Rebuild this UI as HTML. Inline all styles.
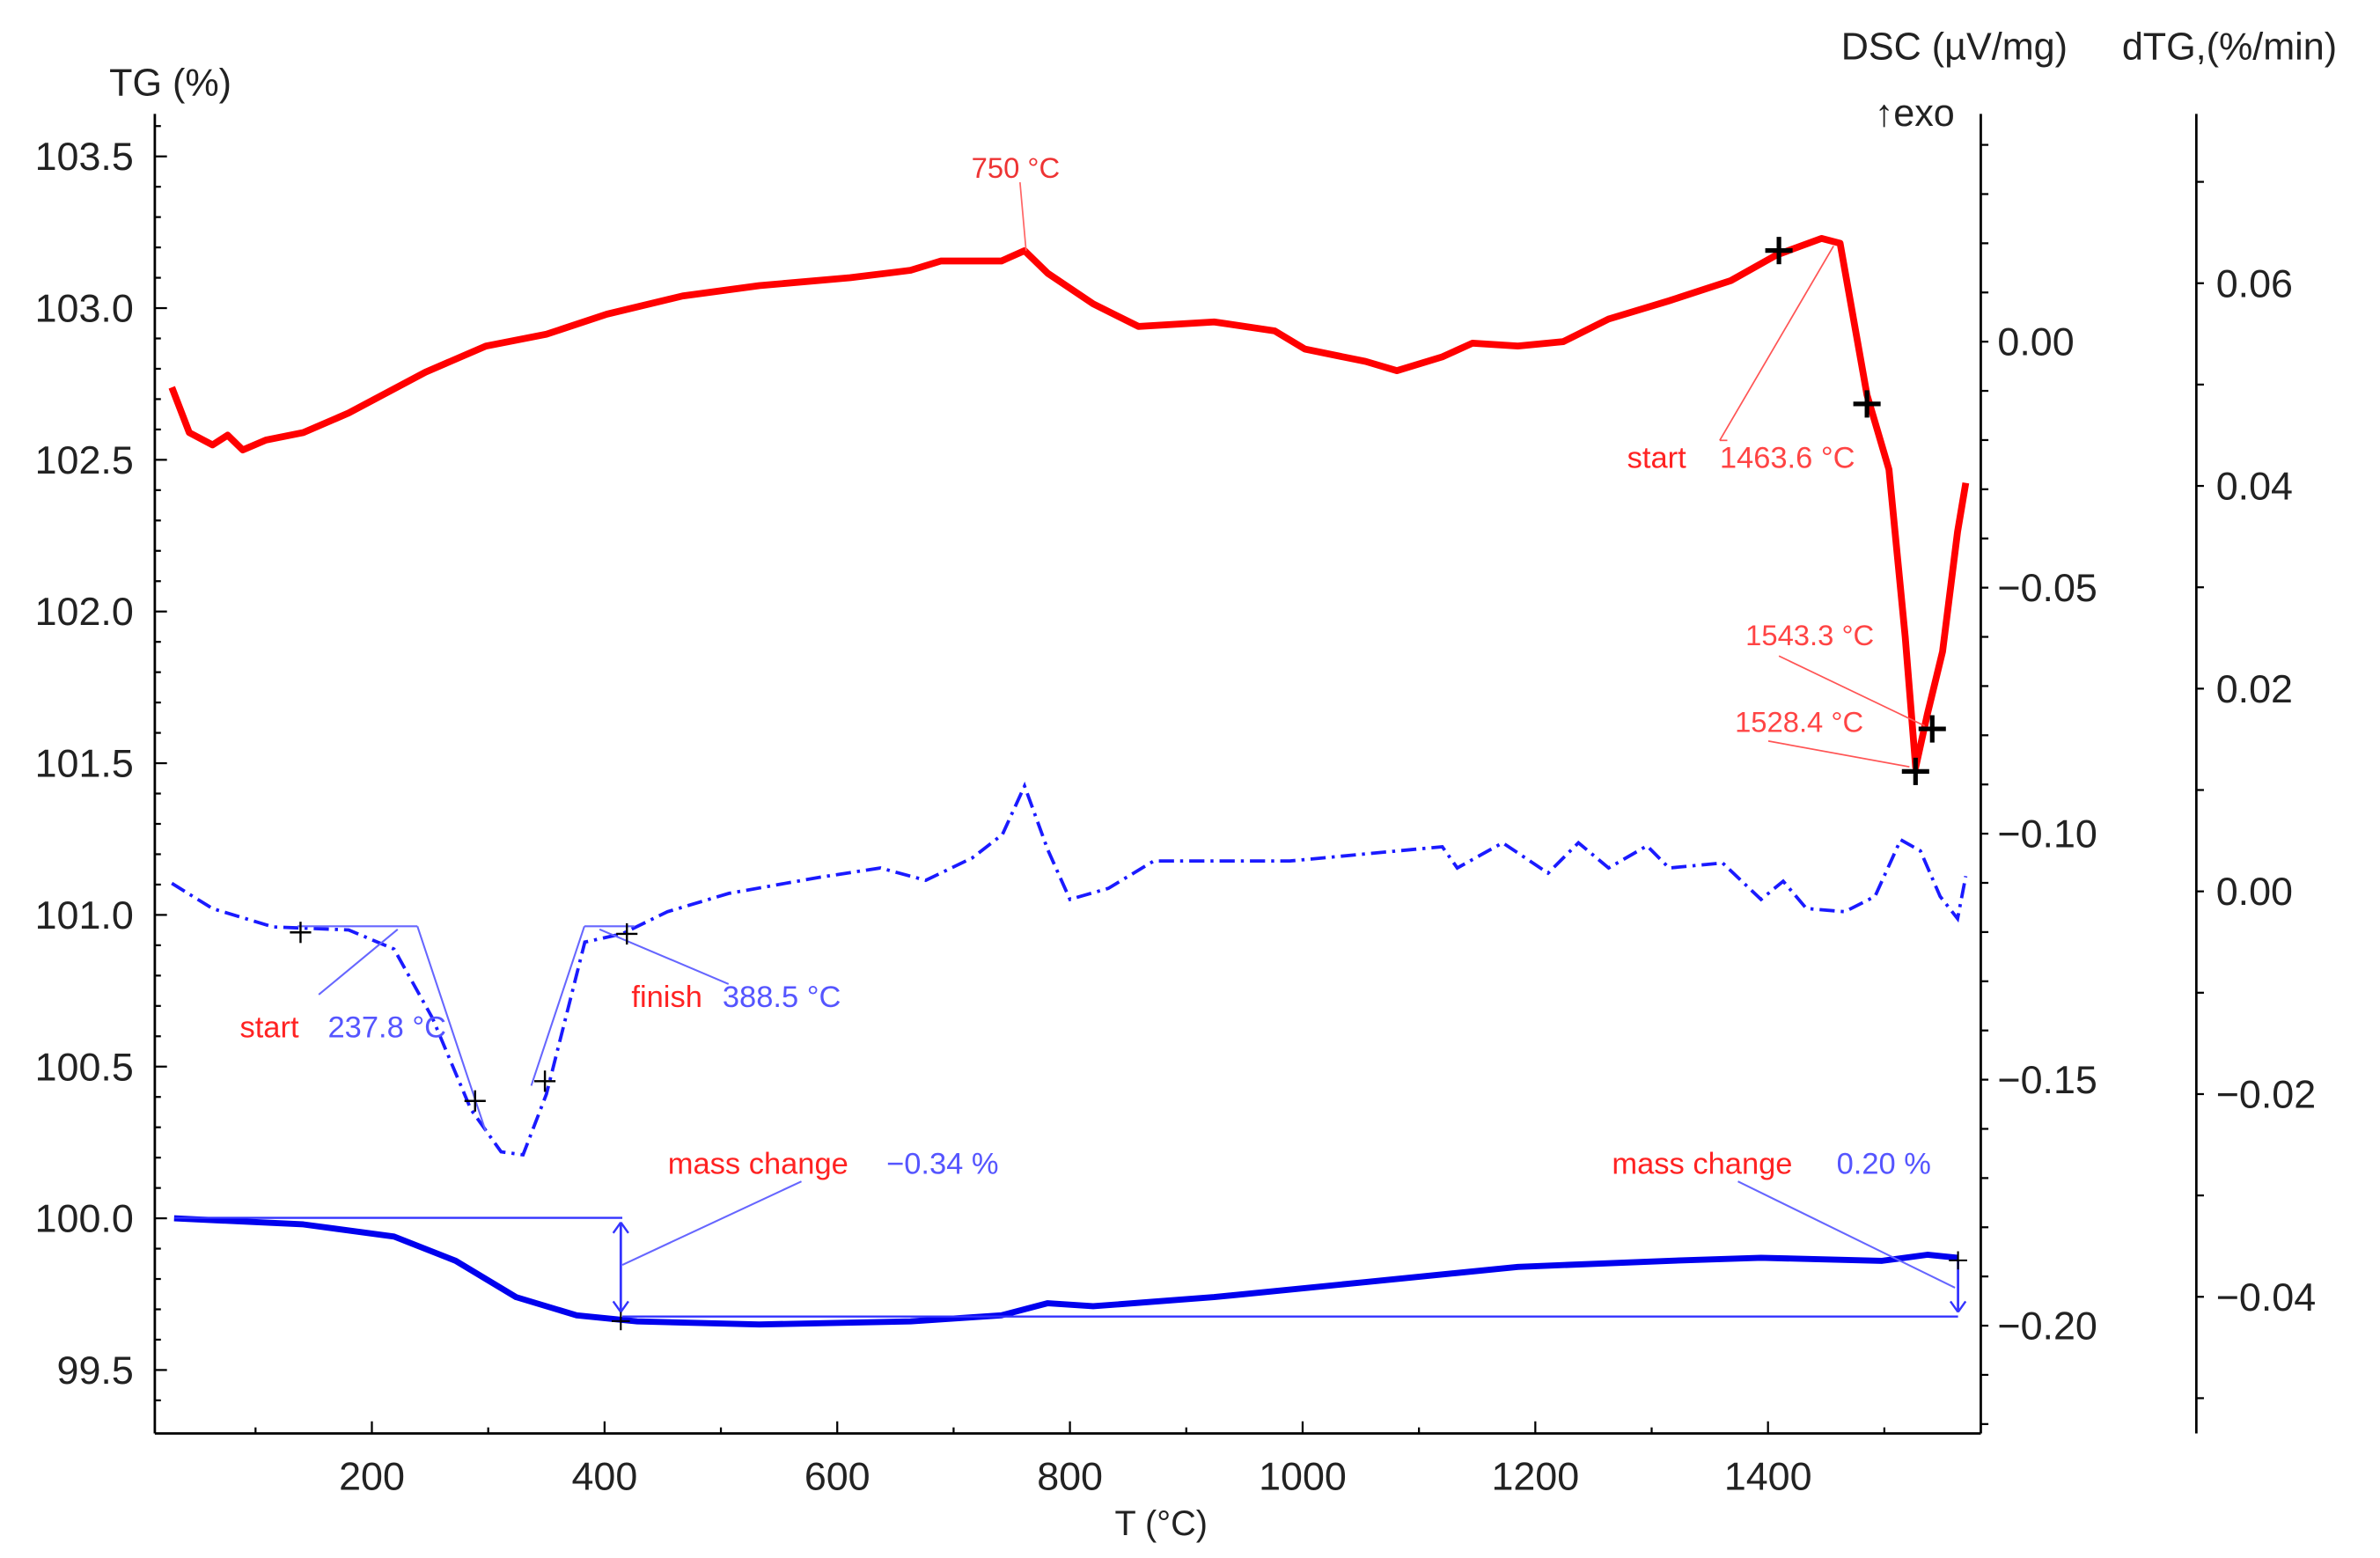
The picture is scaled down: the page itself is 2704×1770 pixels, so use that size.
<!DOCTYPE html>
<html><head><meta charset="utf-8"><style>
html,body{margin:0;padding:0;background:#fff}
svg{display:block}
text{font-family:"Liberation Sans",sans-serif}
</style></head><body>
<svg id="chart" width="2704" height="1770" viewBox="0 0 1568 1026" preserveAspectRatio="none" xmlns="http://www.w3.org/2000/svg">
<g id="axes"></g>
<g id="marks"></g>
<g id="ann"></g>
</svg>
<script>
const xTicks=[200,400,600,800,1000,1200,1400];
const tgTicks=[99.5,100.0,100.5,101.0,101.5,102.0,102.5,103.0,103.5];
const dscTicks=[0.00,-0.05,-0.10,-0.15,-0.20];
const dscTickLabels=["0.00","\u22120.05","\u22120.10","\u22120.15","\u22120.20"];
const dtgTicks=[0.06,0.04,0.02,0.00,-0.02,-0.04];
const dtgTickLabels=["0.06","0.04","0.02","0.00","\u22120.02","\u22120.04"];
const dscT=[28,43,63,76,89,109,141,180,246,298,350,402,467,533,611,663,689,741,761,781,820,859,924,976,1002,1054,1081,1120,1146,1185,1224,1263,1315,1368,1407,1446,1462,1485,1504,1518,1527,1537,1550,1563,1570];
const dscV=[-0.0093,-0.0185,-0.021,-0.019,-0.022,-0.020,-0.0185,-0.0145,-0.0062,-0.0009,0.0015,0.0056,0.0093,0.0114,0.013,0.0145,0.0164,0.0164,0.0185,0.0139,0.0077,0.0031,0.004,0.0022,-0.0015,-0.004,-0.0059,-0.0031,-0.0003,-0.0009,0,0.0046,0.0083,0.0124,0.0176,0.021,0.020,-0.0108,-0.026,-0.060,-0.0865,-0.0757,-0.063,-0.0386,-0.0287];
const dtgT=[28,63,115,180,219,252,285,311,330,350,383,415,454,507,585,637,676,716,742,761,781,800,833,872,989,1120,1133,1172,1211,1237,1263,1296,1315,1361,1394,1413,1433,1466,1492,1514,1531,1548,1563,1570];
const dtgV=[0.0008,-0.0017,-0.0035,-0.0038,-0.0057,-0.0125,-0.0215,-0.0257,-0.026,-0.02,-0.005,-0.0042,-0.002,-0.0002,0.0014,0.0023,0.0011,0.0033,0.0056,0.0104,0.0041,-0.0008,0.0003,0.003,0.003,0.0044,0.0023,0.0048,0.0018,0.0048,0.0023,0.0045,0.0023,0.0028,-0.0008,0.001,-0.0017,-0.002,-0.0005,0.0051,0.004,-0.0005,-0.0027,0.0015];
const tgT=[30,141,219,272,324,376,428,533,663,741,781,820,924,1054,1185,1315,1394,1498,1537,1563];
const tgV=[100.0,99.98,99.94,99.86,99.74,99.68,99.66,99.65,99.66,99.68,99.72,99.71,99.74,99.79,99.84,99.86,99.87,99.86,99.88,99.87];

const NS="http://www.w3.org/2000/svg";
const X=t=>245+(t-200)*153.3/200;
const YTG=v=>103+(103.5-v)*199.8;
const YDSC=v=>225-v*3240;
const YDTG=v=>587-v*6675;
function mk(tag,attrs,parent,txt){const e=document.createElementNS(NS,tag);for(const k in attrs)e.setAttribute(k,attrs[k]);if(txt!==undefined)e.textContent=txt;parent.appendChild(e);return e;}
const axes=document.getElementById('axes'),marks=document.getElementById('marks'),ann=document.getElementById('ann');
let e;
e=mk('line',{x1:102,y1:75,x2:102,y2:944,stroke:'#000','stroke-width':1.6},axes);

e=mk('line',{x1:102,y1:944,x2:1305,y2:944,stroke:'#000','stroke-width':1.6},axes);

e=mk('line',{x1:1305,y1:75,x2:1305,y2:944,stroke:'#000','stroke-width':1.6},axes);

e=mk('line',{x1:1447,y1:75,x2:1447,y2:944,stroke:'#000','stroke-width':1.6},axes);

for(let t=100;t<=1500;t+=100){const x=X(t);mk('line',{x1:x,y1:944,x2:x,y2:t%200==0?936:940,stroke:'#000','stroke-width':1.3},axes);}
xTicks.forEach(t=>{e=mk('text',{x:X(t),y:981,'font-size':26,'text-anchor':'middle',fill:'#222'},axes,String(t));
});
e=mk('text',{x:765,y:1011,'font-size':23,'text-anchor':'middle',fill:'#222'},axes,'T (°C)');

for(let v=99.3;v<=103.61;v+=0.1){const y=YTG(v);if(y<80||y>940)continue;const major=Math.abs(v*2-Math.round(v*2))<0.01;mk('line',{x1:102,y1:y,x2:major?110:106,y2:y,stroke:'#000','stroke-width':1.3},axes);}
tgTicks.forEach(v=>{e=mk('text',{x:88,y:YTG(v)+9,'font-size':26,'text-anchor':'end',fill:'#222'},axes,v.toFixed(1));
});
e=mk('text',{x:72,y:63,'font-size':25,fill:'#222'},axes,'TG (%)');

for(let v=-0.22;v<=0.041;v+=0.01){const y=YDSC(v);if(y<80||y>940)continue;mk('line',{x1:1305,y1:y,x2:1310,y2:y,stroke:'#000','stroke-width':1.3},axes);}
dscTicks.forEach((v,i)=>{e=mk('text',{x:1316,y:YDSC(v)+9,'font-size':26,fill:'#222'},axes,dscTickLabels[i]);
});
e=mk('text',{x:1213,y:39,'font-size':25,fill:'#222'},axes,'DSC (µV/mg)');

e=mk('text',{x:1235,y:83,'font-size':25,fill:'#222'},axes,'↑exo');

for(let v=-0.05;v<=0.071;v+=0.01){const y=YDTG(v);if(y<80||y>940)continue;mk('line',{x1:1447,y1:y,x2:1452,y2:y,stroke:'#000','stroke-width':1.3},axes);}
dtgTicks.forEach((v,i)=>{e=mk('text',{x:1460,y:YDTG(v)+9,'font-size':26,fill:'#222'},axes,dtgTickLabels[i]);
});
e=mk('text',{x:1398,y:39,'font-size':25,fill:'#222'},axes,'dTG,(%/min)');

const pts=(T,V,f)=>T.map((t,i)=>X(t).toFixed(1)+','+f(V[i]).toFixed(1)).join(' ');
e=mk('polyline',{points:pts(dscT,dscV,YDSC),fill:'none',stroke:'#f00','stroke-width':4.5,'stroke-linejoin':'round'},marks);

e=mk('polyline',{points:pts(dtgT,dtgV,YDTG),fill:'none',stroke:'#1a1aff','stroke-width':2.2,'stroke-dasharray':'10 4 2 4'},marks);

e=mk('polyline',{points:pts(tgT,tgV,YTG),fill:'none',stroke:'#0000ee','stroke-width':4,'stroke-linejoin':'round'},marks);

function L(x1,y1,x2,y2,c,w){mk('line',{x1,y1,x2,y2,stroke:c,'stroke-width':w||1.2},ann);}
function cross(x,y,s,w){L(x-s,y,x+s,y,'#000',w);L(x,y-s,x,y+s,'#000',w);}
function T(x,y,s,c,fs,name){e=mk('text',{x,y,'font-size':fs||20,fill:c},ann,s);}
L(672,120,676,165,'#f66',1);
T(640,117,'750 °C','#e33',19,'peak-750-label');
cross(1172,165,9,3);cross(1230,266,9,3);cross(1273,480,9,3);cross(1262,508,9,3);
L(1133,290,1208,162,'#f55',1);L(1133,290,1138,290,'#f55',1);
T(1072,308,'start','#f22',20,'dsc-start-label');T(1133,308,'1463.6 °C','#f44',20,'dsc-start-value');
T(1150,425,'1543.3 °C','#f44',19,'peak-1543-label');T(1143,482,'1528.4 °C','#f44',19,'peak-1528-label');
L(1172,432,1268,478,'#f55',1);L(1165,488,1258,505,'#f55',1);
L(196,610,275,610,'#66f',1.2);L(275,610,320,745,'#66f',1.2);L(210,655,262,612,'#66f',1.2);
L(385,610,350,715,'#66f',1.2);L(385,610,418,610,'#66f',1.2);L(395,612,480,648,'#66f',1.2);
cross(198,614,7,1.4);cross(313,725,7,1.4);cross(359,712,7,1.4);cross(413,615,7,1.4);
T(158,683,'start','#f22',20,'dtg-start-label');T(216,683,'237.8 °C','#55f',20,'dtg-start-value');
T(416,663,'finish','#f22',20,'dtg-finish-label');T(476,663,'388.5 °C','#55f',20,'dtg-finish-value');
L(115,802,410,802,'#33f',1.4);L(410,867,1290,867,'#33f',1.4);
L(409,805,409,864,'#33f',1.6);L(1290,830,1290,864,'#33f',1.6);
L(404,812,409,805,'#33f',1.4);L(414,812,409,805,'#33f',1.4);L(404,857,409,864,'#33f',1.4);L(414,857,409,864,'#33f',1.4);
L(1285,857,1290,864,'#33f',1.4);L(1295,857,1290,864,'#33f',1.4);
cross(409,870,6,1.2);cross(1290,830,6,1.2);
L(410,833,528,778,'#66f',1.2);L(1145,778,1288,848,'#66f',1.2);
T(440,773,'mass change','#f22',20,'mass-change-1-label');T(584,773,'\u22120.34 %','#55f',20,'mass-change-1-value');
T(1062,773,'mass change','#f22',20,'mass-change-2-label');T(1210,773,'0.20 %','#55f',20,'mass-change-2-value');
</script>
</body></html>
